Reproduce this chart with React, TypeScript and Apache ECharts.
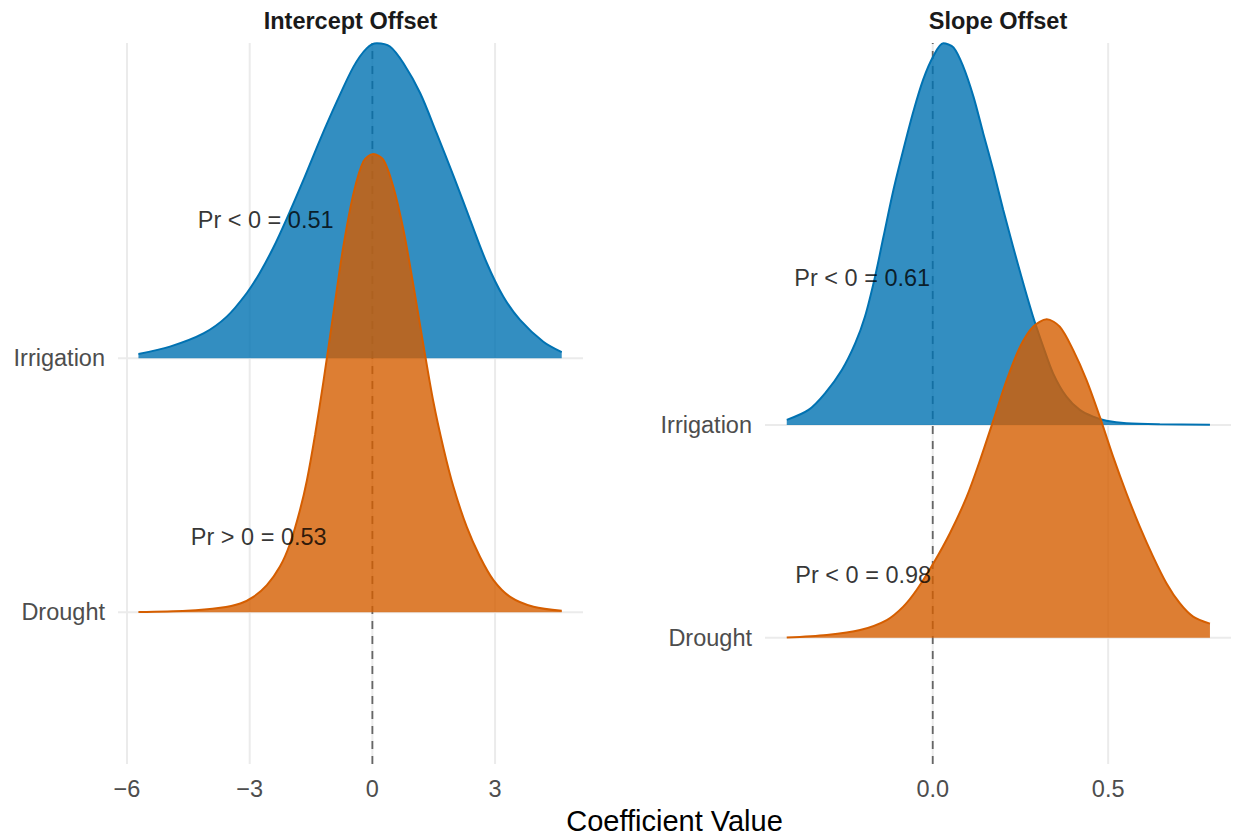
import React, { useEffect, useRef } from "react";
import * as echarts from "echarts";

// ---------- data ----------
const groupNames = ["Drought", "Irrigation"]; // ridge baselines at 1 and 2
const groupBaselines = [1, 2];
const panelTitles = ["Intercept Offset", "Slope Offset"];
const xAxisTitle = "Coefficient Value";

const interceptTicks = [-6, -3, 0, 3];
const interceptTickLabels = ["\u22126", "\u22123", "0", "3"];
const slopeTicks = [0, 0.5];
const slopeTickLabels = ["0.0", "0.5"];

const interceptXRange = [-6.22, 5.15];
const slopeXRange = [-0.478, 0.85];
const interceptYRange = [0.403, 3.241];
const slopeYRange = [0.406, 3.796];

// [coefficient value, ridge height above baseline]
const interceptIrrigation: [number, number][] = [
  [-5.72, 0.017], [-4.95, 0.046], [-4.13, 0.098], [-3.56, 0.164], [-3.07, 0.257],
  [-2.75, 0.337], [-2.42, 0.436], [-2.09, 0.551], [-1.69, 0.7], [-1.28, 0.86],
  [-0.87, 1.01], [-0.46, 1.148], [-0.14, 1.22], [0.11, 1.24], [0.43, 1.227],
  [0.76, 1.161], [1.17, 1.043], [1.57, 0.886], [1.99, 0.715], [2.39, 0.545],
  [2.8, 0.374], [3.2, 0.243], [3.61, 0.151], [4.18, 0.065], [4.63, 0.024],
];
const interceptDrought: [number, number][] = [
  [-5.72, 0.001], [-4.54, 0.006], [-3.72, 0.018], [-3.23, 0.035], [-2.91, 0.061],
  [-2.58, 0.107], [-2.26, 0.18], [-2.01, 0.272], [-1.77, 0.403], [-1.6, 0.52],
  [-1.4, 0.7], [-1.2, 0.905], [-0.95, 1.18], [-0.71, 1.44], [-0.46, 1.65],
  [-0.22, 1.775], [0.02, 1.804], [0.27, 1.781], [0.51, 1.676], [0.76, 1.505],
  [1.0, 1.29], [1.25, 1.05], [1.49, 0.83], [1.74, 0.645], [1.98, 0.495],
  [2.31, 0.335], [2.63, 0.219], [2.96, 0.127], [3.37, 0.061], [3.94, 0.022],
  [4.63, 0.006],
];
const slopeIrrigation: [number, number][] = [
  [-0.416, 0.024], [-0.354, 0.071], [-0.307, 0.149], [-0.259, 0.259], [-0.221, 0.384],
  [-0.193, 0.51], [-0.164, 0.7], [-0.141, 0.88], [-0.112, 1.105], [-0.084, 1.293],
  [-0.055, 1.475], [-0.027, 1.625], [0.002, 1.735], [0.03, 1.795], [0.059, 1.775],
  [0.087, 1.685], [0.116, 1.544], [0.144, 1.371], [0.173, 1.195], [0.201, 1.011],
  [0.229, 0.838], [0.258, 0.666], [0.286, 0.509], [0.315, 0.368], [0.343, 0.243],
  [0.381, 0.133], [0.419, 0.071], [0.457, 0.039], [0.495, 0.02], [0.552, 0.008],
  [0.647, 0.003], [0.79, 0.001],
];
const slopeDrought: [number, number][] = [
  [-0.416, 0.001], [-0.302, 0.013], [-0.207, 0.036], [-0.131, 0.083], [-0.084, 0.146],
  [-0.046, 0.224], [0.002, 0.35], [0.049, 0.491], [0.097, 0.663], [0.135, 0.835],
  [0.173, 1.023], [0.211, 1.212], [0.249, 1.368], [0.286, 1.462], [0.325, 1.497],
  [0.362, 1.462], [0.4, 1.353], [0.438, 1.212], [0.476, 1.039], [0.514, 0.851],
  [0.552, 0.679], [0.59, 0.522], [0.628, 0.381], [0.666, 0.256], [0.704, 0.162],
  [0.742, 0.099], [0.79, 0.066],
];

const interceptNoteTexts = ["Pr < 0 = 0.51", "Pr > 0 = 0.53"];
const interceptNoteX = [-2.61, -2.78];
const interceptNoteY = [2.544, 1.295];
const slopeNoteTexts = ["Pr < 0 = 0.61", "Pr < 0 = 0.98"];
const slopeNoteX = [-0.201, -0.198];
const slopeNoteY = [2.69, 1.295];

// ---------- styling ----------
const FONT = '"Liberation Sans", Arial, Helvetica, sans-serif';
const BLUE = "#0072B2";
const ORANGE = "#D55E00";
const BLUE_FILL = "rgba(0,114,178,0.8)";
const ORANGE_FILL = "rgba(213,94,0,0.8)";
const GRID_COLOR = "#EBEBEB";

const grids = [
  { left: 118, top: 43, width: 465, height: 721 },
  { left: 765, top: 43, width: 466, height: 721 },
];

function buildOption() {
  const panels = [
    {
      ticks: interceptTicks, tickLabels: interceptTickLabels,
      xr: interceptXRange, yr: interceptYRange,
      irr: interceptIrrigation, dr: interceptDrought,
      noteTexts: interceptNoteTexts, noteX: interceptNoteX, noteY: interceptNoteY,
    },
    {
      ticks: slopeTicks, tickLabels: slopeTickLabels,
      xr: slopeXRange, yr: slopeYRange,
      irr: slopeIrrigation, dr: slopeDrought,
      noteTexts: slopeNoteTexts, noteX: slopeNoteX, noteY: slopeNoteY,
    },
  ];

  const xAxis: any[] = [];
  const yAxis: any[] = [];
  const series: any[] = [];

  panels.forEach((p, i) => {
    xAxis.push({
      type: "value", gridIndex: i, min: p.xr[0], max: p.xr[1],
      axisLine: { show: false }, axisTick: { show: false }, splitLine: { show: false },
      axisLabel: {
        customValues: p.ticks,
        formatter: (v: number) => {
          const k = p.ticks.findIndex((t) => Math.abs(t - v) < 1e-9);
          return k >= 0 ? p.tickLabels[k] : "";
        },
        fontSize: 23.5, color: "#4D4D4D", fontFamily: FONT, margin: 13,
      },
    });
    yAxis.push({
      type: "value", gridIndex: i, min: p.yr[0], max: p.yr[1],
      axisLine: { show: false }, axisTick: { show: false }, splitLine: { show: false },
      axisLabel: {
        customValues: groupBaselines,
        formatter: (v: number) => {
          const k = groupBaselines.findIndex((b) => Math.abs(b - v) < 1e-9);
          return k >= 0 ? groupNames[k] : "";
        },
        fontSize: 23.5, color: "#4D4D4D", fontFamily: FONT, margin: 13,
      },
    });

    const common = { xAxisIndex: i, yAxisIndex: i, symbol: "none", silent: true, animation: false };

    // vertical grid lines at ticks
    p.ticks.forEach((t) => {
      series.push({
        ...common, type: "line", z: 1,
        data: [[t, p.yr[0]], [t, p.yr[1]]],
        lineStyle: { color: GRID_COLOR, width: 2 },
      });
    });
    // horizontal grid lines at baselines
    groupBaselines.forEach((b) => {
      series.push({
        ...common, type: "line", z: 1,
        data: [[p.xr[0], b], [p.xr[1], b]],
        lineStyle: { color: GRID_COLOR, width: 2 },
      });
    });
    // dashed zero reference
    series.push({
      ...common, type: "line", z: 2,
      data: [[0, p.yr[0]], [0, p.yr[1]]],
      lineStyle: { color: "#666666", width: 1.8, type: [8, 7] },
    });
    // ridges: Irrigation (baseline 2) then Drought (baseline 1) on top
    series.push({
      ...common, type: "line", z: 3, smooth: 0.3,
      name: groupNames[1],
      data: p.irr.map(([x, h]) => [x, groupBaselines[1] + h]),
      lineStyle: { color: BLUE, width: 2 },
      areaStyle: { color: BLUE_FILL, origin: groupBaselines[1], opacity: 1 },
    });
    series.push({
      ...common, type: "line", z: 4, smooth: 0.3,
      name: groupNames[0],
      data: p.dr.map(([x, h]) => [x, groupBaselines[0] + h]),
      lineStyle: { color: ORANGE, width: 2 },
      areaStyle: { color: ORANGE_FILL, origin: groupBaselines[0], opacity: 1 },
    });
    // annotations
    p.noteTexts.forEach((txt, k) => {
      series.push({
        type: "scatter", xAxisIndex: i, yAxisIndex: i, z: 5, silent: true,
        symbolSize: 1, itemStyle: { color: "transparent" },
        data: [[p.noteX[k], p.noteY[k]]],
        label: {
          show: true, position: "inside", formatter: () => txt,
          fontSize: 23.5, color: "#000000", fontFamily: FONT,
        },
      });
    });
  });

  const graphic: any[] = [
    {
      type: "text", x: grids[0].left + grids[0].width / 2, y: 21,
      style: {
        text: panelTitles[0], fill: "#1A1A1A", font: `bold 23.5px ${FONT}`,
        align: "center", verticalAlign: "middle", textAlign: "center", textVerticalAlign: "middle",
      },
    },
    {
      type: "text", x: grids[1].left + grids[1].width / 2, y: 21,
      style: {
        text: panelTitles[1], fill: "#1A1A1A", font: `bold 23.5px ${FONT}`,
        align: "center", verticalAlign: "middle", textAlign: "center", textVerticalAlign: "middle",
      },
    },
    {
      type: "text", x: (grids[0].left + grids[1].left + grids[1].width) / 2, y: 821,
      style: {
        text: xAxisTitle, fill: "#000000", font: `29px ${FONT}`,
        align: "center", verticalAlign: "middle", textAlign: "center", textVerticalAlign: "middle",
      },
    },
  ];

  return {
    animation: false,
    backgroundColor: "#ffffff",
    textStyle: { fontFamily: FONT },
    grid: grids.map((g) => ({ ...g, containLabel: false })),
    xAxis,
    yAxis,
    series,
    graphic,
  };
}

export default function App() {
  const ref = useRef<HTMLDivElement | null>(null);
  useEffect(() => {
    if (!ref.current) return;
    const chart = echarts.init(ref.current, undefined, { renderer: "svg" });
    chart.setOption(buildOption() as any);
    return () => chart.dispose();
  }, []);
  return (
    <div
      ref={ref}
      style={{ position: "absolute", left: 0, top: 0, width: 1235, height: 838, background: "#fff" }}
    />
  );
}
